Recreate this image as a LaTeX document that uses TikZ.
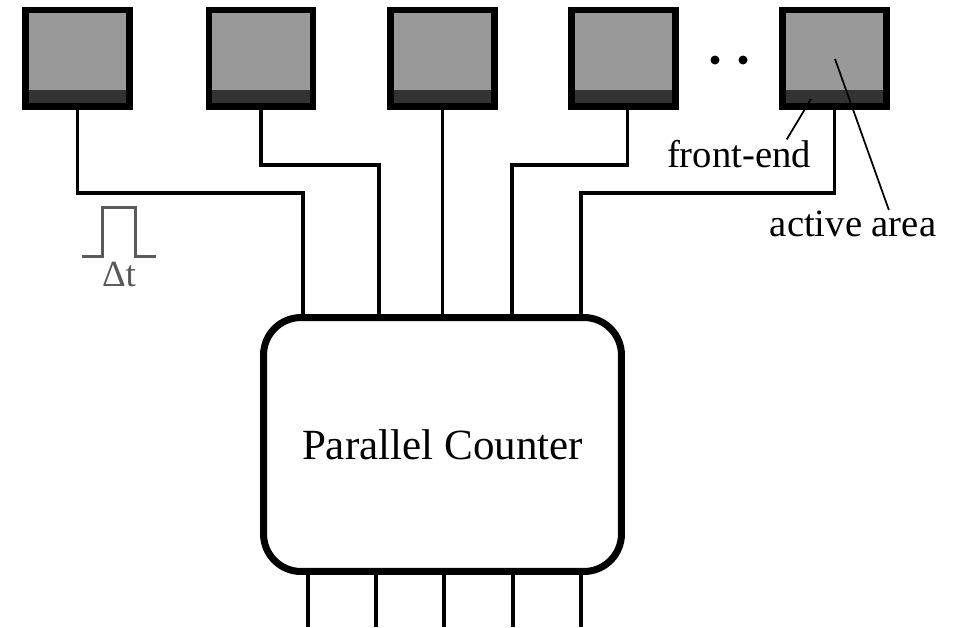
\documentclass[tikz,border=0pt]{standalone}
\usepackage{fontspec}
\setmainfont{Liberation Serif}
\usetikzlibrary{calc}
\definecolor{ActiveGray}{HTML}{999999}
\definecolor{FrontGray}{HTML}{333333}
\definecolor{PulseGray}{HTML}{5A5A5A}

\begin{document}
\begin{tikzpicture}[x=0.02cm,y=-0.02cm,
    detector/.style={fill=black,draw=none,inner sep=0pt,minimum width=2.22cm,minimum height=2.06cm},
    wire/.style={black,line width=0.07cm},
    leader/.style={black,line width=0.035cm},
    counterbox/.style={draw=black,fill=white,line width=0.14cm,rounded corners=0.75cm,
          minimum width=7.16cm,minimum height=5.08cm,font=\fontsize{24.5}{28}\selectfont},
    label/.style={inner sep=0pt,font=\fontsize{22}{26}\selectfont}]
    \useasboundingbox (0,0) rectangle (964,627);

    % detector tiles
    \foreach \i/\x in {1/77.5,2/261,3/442.5,4/623.5,5/834.5} {
      \node[detector] (det\i) at (\x,58.5) {};
      \fill[ActiveGray] ($(det\i.north west)+(7,6.5)$) rectangle ($(det\i.south east)+(-7,-20)$);
      \fill[FrontGray] ($(det\i.south west)+(7,-20)$) rectangle ($(det\i.south east)+(-7,-7)$);
    }
    \fill (715,60) circle (4.5);
    \fill (743,60) circle (4.5);

    % parallel counter
    \node[counterbox] (counter) at (442.5,444.5) {Parallel Counter};

    % wiring
    \coordinate (j1) at (303,193);
    \coordinate (j2) at (379,165);
    \coordinate (j4) at (512,165);
    \coordinate (j5) at (581,193);
    \draw[wire] (det1.south) |- (j1) -- (j1 |- counter.north);
    \draw[wire] (det2.south) |- (j2) -- (j2 |- counter.north);
    \draw[wire] (det3.south) -- (det3.south |- counter.north);
    \draw[wire] ([xshift=0.08cm]det4.south) |- (j4) -- (j4 |- counter.north);
    \draw[wire] (det5.south) |- (j5) -- (j5 |- counter.north);
    \foreach \x in {308,376,444,513,581} {
      \coordinate (out) at (\x,627);
      \draw[wire] (out |- counter.south) -- (out);
    }

    % pulse
    \draw[PulseGray,line width=0.06cm] (82,256) -- (102,256) -- (102,207) -- (135,207) -- (135,256) -- (156,256);
    \node[label,text=PulseGray,anchor=base,font=\fontsize{21}{24}\selectfont] (dt) at (119,286) {Δt};

    % labels
    \node[label,anchor=base] (fe) at (739,167) {front-end};
    \node[label,anchor=base] (aa) at (853,236) {active area};
    \coordinate (feTip) at (811,99);
    \coordinate (aaTip) at (835,59);
    \draw[leader] ($(fe.north)!0.66!(fe.north east)$) -- (feTip);
    \draw[leader] ($(aa.north)!0.43!(aa.north east)$) -- (aaTip);
  \end{tikzpicture}
\end{document}
